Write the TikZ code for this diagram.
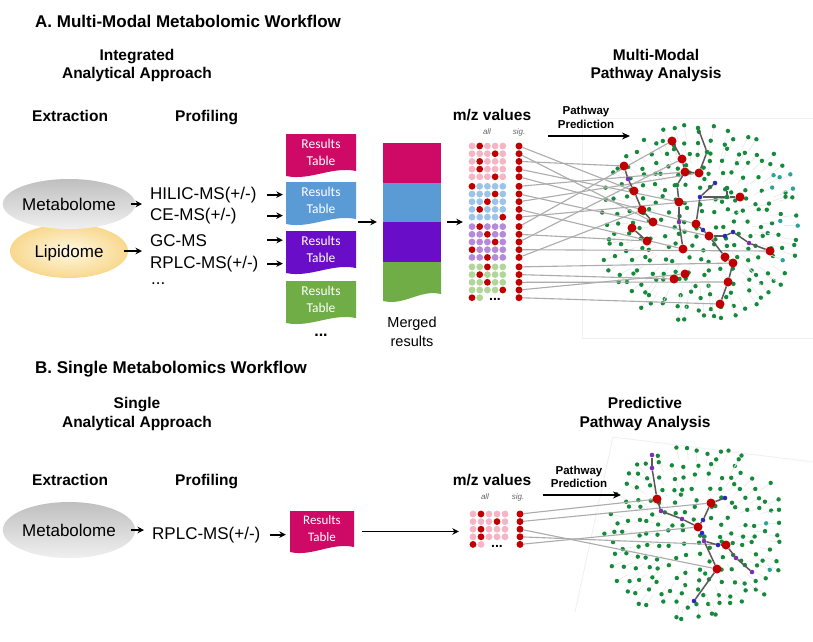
\documentclass[tikz,border=0pt]{standalone}
\usepackage{fontspec}
\setmainfont{Liberation Sans}
\newfontfamily\calfont{Carlito}
\usetikzlibrary{arrows.meta,shapes.geometric}
\pgfdeclarelayer{bg}\pgfdeclarelayer{mid}\pgfdeclarelayer{back}\pgfsetlayers{back,bg,mid,main}
\definecolor{cpink}{HTML}{CF0A66}
\definecolor{cblue}{HTML}{5B9BD5}
\definecolor{cpurp}{HTML}{6A0DC8}
\definecolor{cgreen}{HTML}{70AD47}
\definecolor{lpink}{HTML}{F6B5C4}
\definecolor{lblue}{HTML}{9CC3E8}
\definecolor{lpurp}{HTML}{B48AD9}
\definecolor{lgreen}{HTML}{B2D69A}
\definecolor{dred}{HTML}{C00000}
\definecolor{ngreen}{HTML}{168A3C}
\definecolor{nteal}{HTML}{2AA39A}
\definecolor{npurp}{HTML}{7A2FB5}
\definecolor{nblue}{HTML}{2B2BB5}
\definecolor{yin}{HTML}{FFF8E2}
\definecolor{yout}{HTML}{F8D88E}
\newcommand\rtable[7]{%
  \fill[#4] ({#2-#5/2},#3) -- ({#2+#5/2},#3) -- ({#2+#5/2},{#3+#6-5})
    .. controls ({#2+#5*0.15},{#3+#6-10}) and ({#2-#5*0.15},{#3+#6+5}) .. ({#2-#5/2},{#3+#6}) -- cycle;
  \node[inner sep=0, minimum width=#5pt, minimum height=#6pt] (#1) at (#2,{#3+#6/2}) {};
  \node[rtext, font=\calfont\fontsize{#7}{#7}\selectfont, anchor=base] (#1r) at (#2,{#3+0.34*#6}) {Results};
  \node[rtext, font=\calfont\fontsize{#7}{#7}\selectfont, anchor=base] (#1t) at (#2,{#3+0.74*#6}) {Table};
}
\newcommand\netcloud[6]{%
\pgfmathsetseed{#6}%
\foreach \i in {-#5,...,#5}{\foreach \j in {-#5,...,#5}{
  \pgfmathsetmacro\px{\i*11.8+rand*4.5}
  \pgfmathsetmacro\py{\j*11.8+rand*4.5}
  \pgfmathsetmacro\rr{(\px/#3)^2+(\py/#4)^2}
  \pgfmathsetmacro\tc{((\px>65)&&(rnd>0.75))?1:0}
  \ifdim\rr pt<1pt
    \draw[gray!18, line width=0.6pt] ({#1+\px},{#2+\py}) -- ({#1+0.86*\px},{#2+0.86*\py});
    \ifdim\tc pt>0.5pt \fill[nteal] ({#1+\px},{#2+\py}) circle (2.2);
    \else \fill[ngreen] ({#1+\px},{#2+\py}) circle (2.2); \fi
  \fi
}}}
\begin{document}
\begin{tikzpicture}[x=1pt,y=-1pt,
  arr/.style={-{Stealth[length=6.5pt,width=6.5pt]}, line width=1.8pt, black},
  parr/.style={-{Stealth[length=8pt,width=7pt]}, line width=2pt, black},
  ttl/.style={font=\fontsize{17}{20}\selectfont\bfseries, inner sep=0},
  hdr/.style={font=\fontsize{15.5}{18}\selectfont\bfseries, inner sep=0},
  lbl/.style={font=\fontsize{17}{20}\selectfont, inner sep=0},
  small/.style={font=\fontsize{11.5}{13}\selectfont\bfseries, inner sep=0},
  tiny/.style={font=\fontsize{8}{9}\selectfont\itshape, text=gray!80!black, inner sep=0},
  rtext/.style={text=white, inner sep=0},
  rdot/.style={circle, fill=dred, inner sep=0, minimum size=9pt},
  sdot/.style={circle, fill=dred, inner sep=0, minimum size=7pt},
  pdot/.style={circle, fill=npurp, inner sep=0, minimum size=4.6pt},
  bdot/.style={circle, fill=nblue, inner sep=0, minimum size=4.6pt},
  gndot/.style={circle, fill=ngreen, inner sep=0, minimum size=4.6pt},
  sigline/.style={draw=gray!65, line width=1.1pt},
  nedge/.style={draw=black!65, line width=1.5pt},
  faint/.style={draw=gray!12, line width=0.8pt}]
\useasboundingbox (0,0) rectangle (813,641);
\begin{pgfonlayer}{back}
\fill[white] (0,0) rectangle (813,641);
\draw[faint] (582,118) rectangle (813,338);
\draw[faint] (575,612) -- (613,437) -- (813,462);
\end{pgfonlayer}

% ================= A =================
\node[ttl, anchor=base west] (titleA) at (35,27) {A. Multi-Modal Metabolomic Workflow};
\node[hdr, anchor=base] (intA1) at (137,60.5) {Integrated};
\node[hdr, anchor=base] (intA2) at (137,78.5) {Analytical Approach};
\node[hdr, anchor=base west] (extA) at (32,121.5) {Extraction};
\node[hdr, anchor=base west] (proA) at (175,121.5) {Profiling};
\node[hdr, anchor=base] (mmA1) at (656,60.5) {Multi-Modal};
\node[hdr, anchor=base] (mmA2) at (656,78.5) {Pathway Analysis};

\node[ellipse, minimum width=118pt, minimum height=54pt, inner color=yin, outer color=yout,
      lbl, text depth=0pt] (lipA) at (69,251) {Lipidome};
\node[ellipse, minimum width=118pt, minimum height=50pt, top color=gray!50, bottom color=gray!12,
      lbl, text depth=0pt] (metA) at (69,204) {Metabolome};

\node[lbl, anchor=base west] (hilic) at (150,199) {HILIC-MS(+/-)};
\node[lbl, anchor=base west] (cems) at (150,220) {CE-MS(+/-)};
\node[lbl, anchor=base west] (gcms) at (150,246) {GC-MS};
\node[lbl, anchor=base west] (rplcA) at (150,268) {RPLC-MS(+/-)};
\node[lbl, anchor=base west] (moreA) at (151,284) {...};

\draw[arr, shorten >=8pt] ([xshift=-4pt]metA.east) -- (metA.east -| hilic.west);
\draw[arr, shorten >=8pt] ([xshift=-4pt]lipA.east) -- (lipA.east -| gcms.west);

\rtable{tpink}{321}{134}{cpink}{70}{42}{13.5}
\rtable{tblue}{321}{182}{cblue}{70}{42}{13.5}
\rtable{tpurp}{321}{231}{cpurp}{70}{42}{13.5}
\rtable{tgreen}{321}{281}{cgreen}{70}{42}{13.5}
\node[font=\fontsize{16}{18}\selectfont\bfseries, inner sep=0, anchor=base] (tmore) at (321,336) {...};

\coordinate (ax) at (267,0);
\draw[arr, shorten >=3pt] (ax |- hilic) -- (hilic -| tblue.west);
\draw[arr, shorten >=3pt] (ax |- cems) -- (cems -| tblue.west);
\draw[arr, shorten >=3pt] (ax |- gcms) -- (gcms -| tpurp.west);
\draw[arr, shorten >=3pt] (ax |- rplcA) -- (rplcA -| tpurp.west);

% merged results
\fill[cpink] (383,143) rectangle (441,183);
\fill[cblue] (383,183) rectangle (441,222);
\fill[cpurp] (383,222) rectangle (441,262);
\fill[cgreen] (383,262) -- (441,262) -- (441,294) .. controls (420,289) and (405,306) .. (383,301) -- cycle;
\node[inner sep=0, minimum width=58pt, minimum height=158pt] (merged) at (412,222) {};
\node[font=\fontsize{14.5}{18}\selectfont, inner sep=0, anchor=base] (mg1) at (412,327.5) {Merged};
\node[font=\fontsize{14.5}{18}\selectfont, inner sep=0, anchor=base] (mg2) at (412,346.5) {results};
\coordinate (mIn) at (358,222);
\draw[arr] (mIn) -- ([xshift=-6pt]merged.west);

% m/z grid A
\node[hdr, anchor=base] (mzA) at (492,120.5) {m/z values};
\node[tiny, anchor=base] (allA) at (487,134) {all};
\node[tiny, anchor=base] (sigA) at (519,134) {sig.};
\node[inner sep=0, minimum width=40pt, minimum height=158pt] (gridA) at (487,222) {};
\draw[arr] ([xshift=6pt]merged.east) -- ([xshift=-4pt]gridA.west);
\foreach \yy/\cc/\rc in {146/lpink/2, 153.7/lpink/4, 161.4/lpink/2, 169.1/lpink/2, 176.8/lpink/4,
  186.3/lblue/1, 194/lblue/4, 201.7/lblue/3, 209.4/lblue/2, 217.1/lblue/5,
  226.6/lpurp/2, 234.3/lpurp/3, 242/lpurp/4, 249.7/lpurp/1, 257.4/lpurp/3,
  266.9/lgreen/3, 274.6/lgreen/2, 282.3/lgreen/3, 290/lgreen/5}{
  \foreach \cx [count=\ci] in {472,479.7,487.4,495.1,502.8}{
    \ifnum\ci=\rc \fill[dred] (\cx,\yy) circle (3.4); \else \fill[\cc] (\cx,\yy) circle (3.4); \fi
  }}
\fill[dred] (472,297.7) circle (3.4);
\fill[lgreen] (479.7,297.7) circle (3.4);
\node[font=\fontsize{14}{14}\selectfont\bfseries, inner sep=0, anchor=base] (gmoreA) at (495,300.5) {...};
\foreach \k in {1,...,20}{
  \pgfmathsetmacro\yy{146+floor((\k-1)/5)*40.3+mod(\k-1,5)*7.7}
  \node[sdot] (sA\k) at (519,\yy) {};
}

% pathway prediction A
\node[small, anchor=base] (ppA1) at (586,114) {Pathway};
\node[small, anchor=base] (ppA2) at (586,128.5) {Prediction};
\coordinate (paS) at (548,136);
\coordinate (paE) at (630,136);
\draw[parr] (paS) -- (paE);

% network A
\begin{pgfonlayer}{bg}
\netcloud{700}{224}{104}{102}{9}{11}
\end{pgfonlayer}
\foreach \n/\x/\y in {1/672/141, 2/682/159, 3/624/166, 4/685/172, 5/699/173, 6/634/191,
  7/740/197, 8/679/202, 9/642/210, 10/653/222, 11/696/224, 12/632/228, 13/709/236,
  14/647/241, 15/683/249, 16/770/251, 17/725/257, 18/733/263, 19/685/274, 20/674/279,
  21/728/282, 22/720/304}{
  \node[rdot] (rA\n) at (\x,\y) {};
}
\node[pdot] (a1) at (628,179) {};
\node[gndot] (a2) at (707,152) {};
\node[gndot] (a3) at (698,128) {};
\node[gndot] (a4) at (677,185) {};
\node[pdot] (a5) at (679,222) {};
\node[bdot] (a6) at (700,197) {};
\node[bdot] (a7) at (715,183) {};
\node[bdot] (a8) at (703,230) {};
\node[bdot] (a9) at (725,236) {};
\node[bdot] (a10) at (733,232) {};
\node[pdot] (a11) at (749,243) {};
\node[gndot] (a12) at (727,188) {};
\node[gndot] (a13) at (727,197) {};
\begin{pgfonlayer}{mid}
\foreach \s/\r in {1/6, 2/10, 3/3, 4/8, 5/11, 6/4, 7/13, 8/5, 9/15, 10/7, 11/1, 12/14,
  13/2, 14/16, 15/9, 16/18, 17/20, 18/21, 19/19, 20/22}{
  \draw[sigline] (sA\s) -- (rA\r);
}
\foreach \u/\v in {rA1/rA2, rA2/rA4, rA4/rA5, rA5/a2, a2/a3, rA3/a1, a1/rA6, rA6/rA9, rA9/rA10,
  rA4/a4, a4/rA8, rA8/a5, a5/rA15, rA11/a6, a6/a7, a6/a13, a13/rA7, a12/a13,
  rA11/a8, a8/rA13, rA13/a9, a9/a10, a10/a11, a11/rA16, rA13/rA17, rA17/rA18,
  rA18/rA21, rA21/rA22, rA12/rA14}{
  \draw[nedge] (\u) -- (\v);
}
\end{pgfonlayer}

% ================= B =================
\node[ttl, anchor=base west] (titleB) at (35,373) {B. Single Metabolomics Workflow};
\node[hdr, anchor=base] (intB1) at (137,408.5) {Single};
\node[hdr, anchor=base] (intB2) at (137,427.5) {Analytical Approach};
\node[hdr, anchor=base west] (extB) at (32,485.5) {Extraction};
\node[hdr, anchor=base west] (proB) at (175,485.5) {Profiling};
\node[hdr, anchor=base] (ppB1) at (645,408.5) {Predictive};
\node[hdr, anchor=base] (ppB2) at (645,427.5) {Pathway Analysis};

\node[ellipse, minimum width=118pt, minimum height=56pt, top color=gray!50, bottom color=gray!12,
      lbl, text depth=0pt] (metB) at (69,530) {Metabolome};
\node[lbl, anchor=base west] (rplcB) at (152,539) {RPLC-MS(+/-)};
\draw[arr, shorten >=8pt] ([xshift=-4pt]metB.east) -- (metB.east -| rplcB.west);
\rtable{tB}{322}{511}{cpink}{64}{41}{13}
\draw[arr, shorten >=4pt] ([xshift=9pt]rplcB.east) -- (rplcB -| tB.west);

\node[hdr, anchor=base] (mzB) at (492,485.5) {m/z values};
\node[tiny, anchor=base] (allB) at (485,499) {all};
\node[tiny, anchor=base] (sigB) at (518,499) {sig.};
\node[inner sep=0, minimum width=40pt, minimum height=40pt] (gridB) at (489,530) {};
\draw[arr] ([xshift=8pt]tB.east) -- ([xshift=-10pt]tB.east -| gridB.west);
\foreach \yy/\rc in {514/2, 521.6/4, 529.2/2, 536.8/2}{
  \foreach \cx [count=\ci] in {473,481,489,497,505}{
    \ifnum\ci=\rc \fill[dred] (\cx,\yy) circle (3.4); \else \fill[lpink] (\cx,\yy) circle (3.4); \fi
  }}
\fill[dred] (473,544.4) circle (3.4);
\fill[lpink] (481,544.4) circle (3.4);
\node[font=\fontsize{14}{14}\selectfont\bfseries, inner sep=0, anchor=base] (gmoreB) at (497,547.2) {...};
\foreach \k in {1,...,5}{
  \pgfmathsetmacro\yy{514+(\k-1)*7.6}
  \node[sdot] (sB\k) at (520,\yy) {};
}
\node[small, anchor=base] (ppB3) at (579,474) {Pathway};
\node[small, anchor=base] (ppB4) at (579,487.5) {Prediction};
\coordinate (pbS) at (543,495);
\coordinate (pbE) at (621,495);
\draw[parr] (pbS) -- (pbE);

\begin{pgfonlayer}{bg}
\netcloud{696}{534}{93}{90}{8}{5}
\end{pgfonlayer}
\foreach \n/\x/\y in {1/657/499, 2/711/503, 3/698/527, 4/726/545, 5/717/569}{
  \node[rdot] (rB\n) at (\x,\y) {};
}
\node[pdot] (b1) at (652,455) {};
\node[pdot] (b2) at (652,468) {};
\node[pdot] (b3) at (661,511) {};
\node[pdot] (b4) at (682,519) {};
\node[bdot] (b5) at (725,498) {};
\node[bdot] (b6) at (703,520) {};
\node[bdot] (b7) at (702,533) {};
\node[pdot] (b8) at (704,541) {};
\node[bdot] (b9) at (718,545) {};
\node[pdot] (b10) at (736,558) {};
\node[pdot] (b11) at (752,572) {};
\node[bdot] (b13) at (694,601) {};
\begin{pgfonlayer}{mid}
\foreach \s/\r in {1/1, 2/2, 3/5, 4/4, 5/3}{
  \draw[sigline] (sB\s) -- (rB\r);
}
\foreach \u/\v in {b1/b2, b2/rB1, rB1/b3, b3/b4, b4/rB3, rB2/b5, rB2/b6, b6/rB3, rB3/b7, b7/b8,
  b8/b9, b9/rB4, rB4/b10, b10/b11, b8/rB5, rB5/b13}{
  \draw[nedge] (\u) -- (\v);
}
\end{pgfonlayer}
\end{tikzpicture}
\end{document}
